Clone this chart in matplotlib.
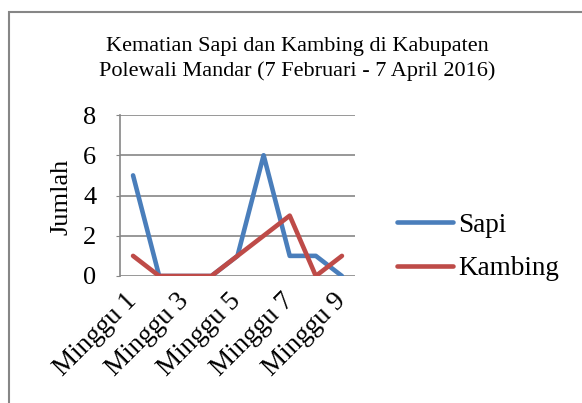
import matplotlib.pyplot as plt
from matplotlib.patches import Rectangle

plt.rcParams['font.family'] = ['Liberation Serif', 'DejaVu Serif']

minggu = [f"Minggu {i}" for i in range(1, 10)]
sapi = [5, 0, 0, 0, 1, 6, 1, 1, 0]
kambing = [1, 0, 0, 0, 1, 2, 3, 0, 1]
y_ticks = [0, 2, 4, 6, 8]
judul = "Kematian Sapi dan Kambing di Kabupaten\nPolewali Mandar (7 Februari - 7 April 2016)"

W, H = 582, 403
fig = plt.figure(figsize=(W / 100, H / 100), dpi=100)
ax = fig.add_axes([120 / W, 1 - 276 / H, 235 / W, 161 / H])

x = list(range(len(minggu)))
ax.plot(x, sapi, color='#4A7EBB', lw=3.3, solid_capstyle='round', label='Sapi')
ax.plot(x, kambing, color='#BE4B48', lw=3.3, solid_capstyle='round', label='Kambing')

ax.set_xlim(-0.5, len(minggu) - 0.5)
ax.set_ylim(0, 8)
ax.set_yticks(y_ticks)
ax.yaxis.grid(True, color='#868686', lw=1.2)
ax.set_axisbelow(True)
for s in ['top', 'right', 'bottom']:
    ax.spines[s].set_visible(False)
ax.spines['left'].set_color('#868686')
ax.spines['left'].set_linewidth(1.2)
ax.tick_params(axis='y', length=3, color='#868686', labelsize=19, pad=14)

ax.set_xticks(x[::2])
ax.set_xticklabels(minggu[::2], rotation=45, ha='right', va='center',
                   rotation_mode='anchor', fontsize=19.5)
ax.tick_params(axis='x', length=0, pad=15)

fig.text(61 / W, 1 - 197 / H, "Jumlah", rotation=90, ha='center', va='center', fontsize=19)
fig.text(297 / W, 1 - 59 / H, judul, ha='center', va='center', fontsize=16, linespacing=1.35)

ax.legend(loc='center left', bbox_to_anchor=(397 / W, 1 - 247 / H), bbox_transform=fig.transFigure,
          frameon=False, fontsize=19.5, handlelength=2.05, handletextpad=0.2, labelspacing=0.7,
          borderpad=0, borderaxespad=0)

fig.patches.append(Rectangle((9 / W, -0.1), 1.2, 1.1 - 12 / H, transform=fig.transFigure,
                             fill=False, edgecolor='#868686', lw=1.5))

fig.savefig('out.png', dpi=100)
